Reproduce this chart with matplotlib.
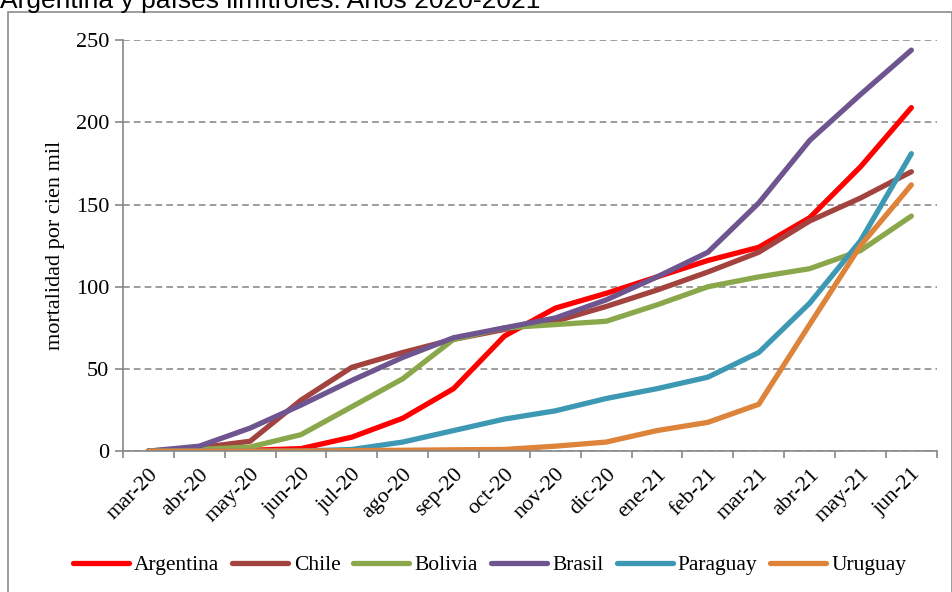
import numpy as np
import matplotlib
matplotlib.use("Agg")
import matplotlib.pyplot as plt
from matplotlib.patches import Rectangle

# ---------- data ----------
months = ["mar-20", "abr-20", "may-20", "jun-20", "jul-20", "ago-20", "sep-20", "oct-20",
          "nov-20", "dic-20", "ene-21", "feb-21", "mar-21", "abr-21", "may-21", "jun-21"]

argentina = [0, 0, 0.5, 1.5, 8.5, 20, 38, 70, 87, 96, 106, 116, 124, 142, 173, 209]
chile     = [0, 2, 6, 31, 51, 60, 68, 74, 79, 88, 98, 109, 121, 140, 154, 170]
bolivia   = [0, 1, 2.5, 10, 27, 44, 68, 75, 77, 79, 89, 100, 106, 111, 122, 143]
brasil    = [0, 3, 14, 28, 43, 57, 69, 75, 81, 92, 106, 121, 151, 189, 217, 244]
paraguay  = [0, 0, 0, 0, 1, 5.5, 12.5, 19.5, 24.5, 32, 38, 45, 60, 90, 128, 181]
uruguay   = [0, 0, 0, 0, 0.3, 0.5, 0.8, 1, 3, 5.5, 12.5, 17.5, 28.5, 77, 125, 162]

series = [
    ("Argentina", argentina, "#FF0000"),
    ("Chile",     chile,     "#A3433F"),
    ("Bolivia",   bolivia,   "#8AA84B"),
    ("Brasil",    brasil,    "#6E5590"),
    ("Paraguay",  paraguay,  "#3D99B3"),
    ("Uruguay",   uruguay,   "#DD833A"),
]

serif = ["Liberation Serif", "DejaVu Serif"]
axis_grey = "#878787"

fig = plt.figure(figsize=(9.53, 5.92), dpi=100)
ax = fig.add_axes([0.129, 0.238, 0.854, 0.694])

x = np.arange(len(months))
for name, vals, col in series:
    ax.plot(x, vals, color=col, lw=3.8, label=name, solid_capstyle="round",
            solid_joinstyle="round")

# ---------- axes ----------
ax.set_xlim(-0.5, len(months) - 0.5)
ax.set_ylim(0, 250)
ax.set_yticks(range(0, 251, 50))
ax.set_yticklabels([str(v) for v in range(0, 251, 50)], family=serif, fontsize=16)
ax.yaxis.grid(True, ls=(0, (4, 2.5)), color="#8C8C8C", lw=1.2)
ax.set_axisbelow(True)

ax.set_xticks(x)
ax.set_xticklabels(months, rotation=45, ha="right", rotation_mode="anchor",
                   family=serif, fontsize=16)
ax.set_xticks(np.arange(-0.5, len(months)), minor=True)
ax.tick_params(axis="x", which="major", length=0, pad=10)
ax.tick_params(axis="x", which="minor", length=5, color=axis_grey, width=1.2)
ax.tick_params(axis="y", length=6, color=axis_grey, width=1.2, pad=4)

for s in ["top", "right"]:
    ax.spines[s].set_visible(False)
for s in ["left", "bottom"]:
    ax.spines[s].set_color(axis_grey)
    ax.spines[s].set_linewidth(1.2)

ax.set_ylabel("mortalidad por cien mil", family=serif, fontsize=16, labelpad=8)

# ---------- legend ----------
ax.legend(loc="center", bbox_to_anchor=(0.514, 0.045), bbox_transform=fig.transFigure,
          ncol=6, frameon=False, prop={"family": serif, "size": 15.5},
          handlelength=2.6, handletextpad=0.25, columnspacing=0.6)

# ---------- title + frame ----------
fig.text(0.0, 1 - 8 / 592, "Argentina y países limítrofes. Años 2020-2021",
         family=["Liberation Sans", "DejaVu Sans"], fontsize=19, va="baseline", ha="left")
fig.patches.append(Rectangle((8 / 953, -0.01), 944 / 953, 1 - 12 / 592 + 0.01,
                             transform=fig.transFigure, fill=False,
                             edgecolor="#8C8C8C", lw=1.2))

fig.savefig("out.png", dpi=100)
